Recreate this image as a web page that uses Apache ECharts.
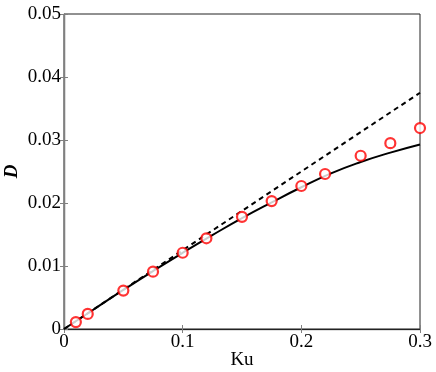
<!DOCTYPE html>
<html>
<head>
    <meta charset="utf-8">
    <title>D vs Ku</title>
    <script type="text/javascript" src="https://cdn.jsdelivr.net/npm/echarts@6/dist/echarts.min.js"></script>
    <style>
        html, body { margin: 0; padding: 0; background: #fff; }
    </style>
</head>
<body>
    <div id="main" style="width: 436px;height:372px;"></div>
    <script type="text/javascript">
        // measured points (red circles)
        var kuPoints = [0.01, 0.02, 0.05, 0.075, 0.1, 0.12, 0.15, 0.175, 0.2, 0.22, 0.25, 0.275, 0.3];
        var dPoints = [0.0011, 0.0024, 0.0061, 0.0091, 0.0121, 0.0144, 0.0178, 0.0203, 0.0227, 0.0246, 0.0275, 0.0295, 0.0319];

        // solid curve
        var kuCurve = [0, 0.025, 0.05, 0.075, 0.1, 0.125, 0.15, 0.175, 0.2, 0.225, 0.25, 0.275, 0.3];
        var dCurve = [0, 0.0031, 0.0062, 0.0092, 0.0121, 0.0149, 0.0176, 0.0201, 0.0225, 0.0247, 0.0265, 0.0280, 0.0293];

        // dashed straight line
        var kuLinear = [0, 0.3];
        var dLinear = [0, 0.0375];

        function pairs(xs, ys) {
            var out = [];
            for (var i = 0; i < xs.length; i++) out.push([xs[i], ys[i]]);
            return out;
        }

        var serif = 'Liberation Serif';
        var axisGray = '#808080';

        var myChart = echarts.init(document.getElementById('main'));
        var option = {
            animation: false,
            grid: {
                left: 64, right: 16, top: 14, bottom: 43,
                containLabel: false, outerBoundsMode: 'none',
                show: true, borderColor: '#222', borderWidth: 1
            },
            xAxis: [
                {
                    type: 'value', min: 0, max: 0.3, interval: 0.1,
                    name: 'Ku', nameLocation: 'middle', nameGap: 22, nameMoveOverlap: false,
                    nameTextStyle: { fontFamily: serif, fontSize: 19, color: '#000' },
                    axisLine: { show: true, lineStyle: { color: axisGray, width: 1.3 } },
                    axisTick: { inside: true, length: 4, lineStyle: { color: axisGray } },
                    axisLabel: {
                        fontFamily: serif, fontSize: 19, color: '#000', margin: 4,
                        formatter: function (v) { return v === 0 ? '0' : String(+v.toFixed(2)); }
                    },
                    splitLine: { show: false }
                },
                {
                    type: 'value', min: 0, max: 0.3, interval: 0.1, position: 'top',
                    axisLine: { show: true, lineStyle: { color: '#222', width: 1 } },
                    axisTick: { show: true, inside: true, length: 4, lineStyle: { color: axisGray } },
                    axisLabel: { show: false },
                    splitLine: { show: false }
                }
            ],
            yAxis: [
                {
                    type: 'value', min: 0, max: 0.05, interval: 0.01,
                    name: 'D', nameLocation: 'middle', nameGap: 42, nameMoveOverlap: false,
                    nameTextStyle: { fontFamily: serif, fontSize: 19, fontStyle: 'italic', fontWeight: 'bold', color: '#000' },
                    axisLine: { show: true, lineStyle: { color: axisGray, width: 1.3 } },
                    axisTick: { show: true, inside: true, length: 4, lineStyle: { color: axisGray } },
                    axisLabel: {
                        fontFamily: serif, fontSize: 19, color: '#000', margin: 3,
                        formatter: function (v) { return v === 0 ? '0' : String(+v.toFixed(3)); }
                    },
                    splitLine: { show: false }
                },
                {
                    type: 'value', min: 0, max: 0.05, interval: 0.01, position: 'right',
                    axisLine: { show: true, lineStyle: { color: axisGray, width: 1.3 } },
                    axisTick: { show: true, inside: true, length: 4, lineStyle: { color: axisGray } },
                    axisLabel: { show: false },
                    splitLine: { show: false }
                }
            ],
            series: [
                {
                    type: 'line', data: pairs(kuLinear, dLinear), showSymbol: false,
                    xAxisIndex: 1, yAxisIndex: 1,
                    lineStyle: { color: '#000', width: 2, type: [5, 4] }
                },
                {
                    type: 'line', data: pairs(kuCurve, dCurve), showSymbol: false, smooth: true,
                    lineStyle: { color: '#000', width: 2 }
                },
                {
                    type: 'scatter', data: pairs(kuPoints, dPoints), symbol: 'circle', symbolSize: 10,
                    itemStyle: { color: '#fff', borderColor: '#ff0000', borderWidth: 2.2 }, z: 5
                }
            ]
        };
        myChart.setOption(option);
    </script>
</body>
</html>
